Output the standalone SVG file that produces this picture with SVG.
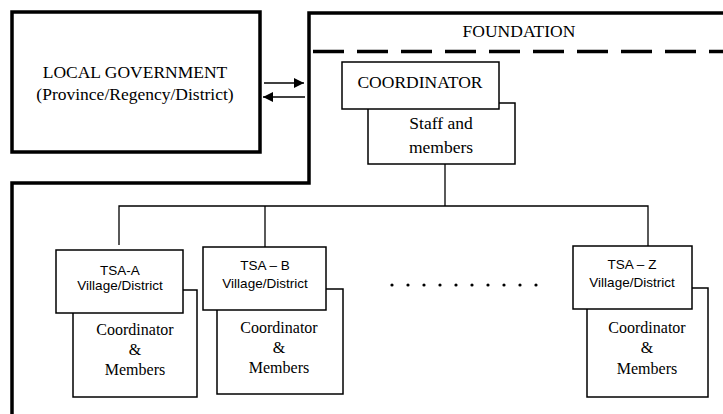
<svg xmlns="http://www.w3.org/2000/svg" width="723" height="414" viewBox="0 0 723 414">
<style>
.thick{fill:none;stroke:#000;stroke-width:3.5}
.box{fill:#fff;stroke:#000;stroke-width:1.5}
.ln{fill:none;stroke:#000;stroke-width:1.3}
.serif{font-family:"Liberation Serif","Times New Roman",serif;fill:#000;text-anchor:middle}
.sans{font-family:"Liberation Sans",Arial,sans-serif;fill:#000;text-anchor:middle;font-size:13.5px}
.big{font-size:17.5px}
.mid{font-size:16px}
</style>
<defs>
<marker id="ah" viewBox="0 0 10 10" refX="10" refY="5" markerWidth="10" markerHeight="10" markerUnits="userSpaceOnUse" orient="auto">
<path d="M0,0 L10,5 L0,10 z" fill="#000"/>
</marker>
</defs>
<rect width="723" height="414" fill="#fff"/>
<g id="local-government">
<rect class="thick" x="12" y="12" width="248" height="140"/>
<text class="serif big" x="135" y="78">LOCAL GOVERNMENT</text>
<text class="serif big" x="135" y="100">(Province/Regency/District)</text>
</g>
<g id="foundation">
<path class="thick" d="M723,13 H309 V183 H12 V414"/>
<line x1="313" y1="51.5" x2="723" y2="51.5" stroke="#000" stroke-width="3.5" stroke-dasharray="31 13"/>
<text class="serif big" x="519" y="37">FOUNDATION</text>
</g>
<g id="connectors">
<line class="ln" x1="264" y1="83" x2="304" y2="83" marker-end="url(#ah)" stroke-width="1.8"/>
<line class="ln" x1="305" y1="97" x2="263" y2="97" marker-end="url(#ah)" stroke-width="1.8"/>
<path class="ln" d="M445,164 V206"/>
<path class="ln" d="M119,245 V206 H648 V246"/>
<path class="ln" d="M265,206 V247"/>
</g>
<g id="coordinator">
<rect class="box" x="368" y="103" width="147" height="61"/>
<text class="serif big" x="441" y="129">Staff and</text>
<text class="serif big" x="441" y="153">members</text>
<rect class="box" x="342" y="62" width="157" height="47"/>
<text class="serif big" x="420" y="88">COORDINATOR</text>
</g>
<g id="tsa-a">
<rect class="box" x="73" y="290" width="124" height="107"/>
<text class="serif mid" x="135" y="335">Coordinator</text>
<text class="serif mid" x="135" y="355">&amp;</text>
<text class="serif mid" x="135" y="375">Members</text>
<rect class="box" x="56" y="250" width="127" height="63"/>
<text class="sans" x="120" y="275">TSA-A</text>
<text class="sans" x="120" y="290">Village/District</text>
</g>
<g id="tsa-b">
<rect class="box" x="217" y="289" width="126" height="105"/>
<text class="serif mid" x="279" y="333">Coordinator</text>
<text class="serif mid" x="279" y="353">&amp;</text>
<text class="serif mid" x="279" y="373">Members</text>
<rect class="box" x="203" y="247" width="123" height="63"/>
<text class="sans" x="265" y="270">TSA – B</text>
<text class="sans" x="265" y="288">Village/District</text>
</g>
<g id="dots" fill="#000">
<circle cx="392" cy="285" r="1.6"/><circle cx="408" cy="285" r="1.6"/><circle cx="424" cy="285" r="1.6"/><circle cx="440" cy="285" r="1.6"/><circle cx="456" cy="285" r="1.6"/><circle cx="472" cy="285" r="1.6"/><circle cx="488" cy="285" r="1.6"/><circle cx="504" cy="285" r="1.6"/><circle cx="520" cy="285" r="1.6"/><circle cx="536" cy="285" r="1.6"/>
</g>
<g id="tsa-z">
<rect class="box" x="587" y="288" width="121" height="109"/>
<text class="serif mid" x="647" y="333">Coordinator</text>
<text class="serif mid" x="647" y="353">&amp;</text>
<text class="serif mid" x="647" y="374">Members</text>
<rect class="box" x="573" y="246" width="119" height="63"/>
<text class="sans" x="632" y="269">TSA – Z</text>
<text class="sans" x="632" y="287">Village/District</text>
</g>
</svg>
